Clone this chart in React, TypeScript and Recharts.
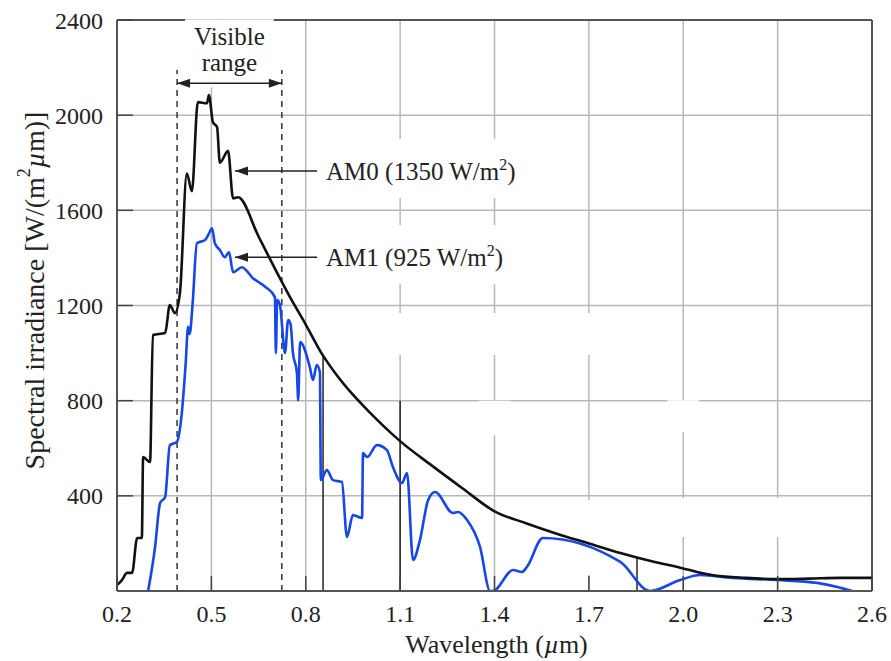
import { CartesianGrid, Line, LineChart, ReferenceArea, ReferenceLine, XAxis, YAxis } from "recharts";

const X_TICKS = [0.2, 0.5, 0.8, 1.1, 1.4, 1.7, 2.0, 2.3, 2.6];
const Y_TICKS = [400, 800, 1200, 1600, 2000, 2400];

// AM0 (outside the atmosphere)
const AM0_WL = [
  0.2, 0.215, 0.232, 0.248, 0.264, 0.279, 0.283, 0.305, 0.314, 0.353, 0.368, 0.384, 0.4, 0.422, 0.438,
  0.457, 0.486, 0.492, 0.505, 0.518, 0.527, 0.553, 0.569, 0.585, 0.65, 0.7, 0.75, 0.8, 0.85, 0.9,
  0.95, 1.0, 1.05, 1.1, 1.2, 1.3, 1.4, 1.5, 1.6, 1.7, 1.8, 1.9, 2.0, 2.05, 2.1, 2.2, 2.3, 2.4, 2.5, 2.6,
];
const AM0_IRR = [
  25, 45, 76, 76, 223, 223, 563, 542, 1076, 1084, 1202, 1168, 1252, 1755, 1680,
  2055, 2050, 2085, 1970, 1950, 1800, 1850, 1650, 1655, 1490, 1360, 1235, 1120, 1000, 905,
  825, 755, 690, 630, 528, 430, 335, 285, 240, 200, 160, 125, 95, 78, 65, 55, 50, 52, 55, 55,
];

// AM1 (sea level)
const AM1_WL = [
  0.299, 0.321, 0.337, 0.353, 0.368, 0.39, 0.406, 0.418, 0.426, 0.431, 0.44, 0.454, 0.48, 0.493, 0.502,
  0.511, 0.527, 0.543, 0.556, 0.569, 0.597, 0.632, 0.67, 0.702, 0.705, 0.709, 0.718, 0.734, 0.744, 0.752,
  0.759, 0.772, 0.776, 0.782, 0.813, 0.823, 0.835, 0.845, 0.848, 0.867, 0.887, 0.915, 0.931, 0.95, 0.979,
  0.982, 0.995, 1.026, 1.058, 1.077, 1.106, 1.122, 1.141, 1.163, 1.189, 1.211, 1.268, 1.284, 1.313, 1.354,
  1.386, 1.395, 1.459, 1.487, 1.503, 1.554, 1.8, 1.894, 1.99, 2.053, 2.158, 2.3, 2.425, 2.49, 2.537,
];
const AM1_IRR = [
  0, 185, 370, 395, 613, 626, 748, 950, 1110, 1080, 1200, 1462, 1475, 1504, 1525,
  1462, 1433, 1403, 1424, 1340, 1361, 1315, 1280, 1235, 1000, 1223, 1202, 1000, 1139, 1120,
  1004, 916, 802, 1046, 941, 887, 950, 920, 466, 508, 466, 458, 227, 319, 307,
  580, 563, 613, 592, 521, 454, 496, 130, 214, 382, 416, 328, 332, 298, 185,
  0, 0, 88, 80, 101, 223, 122, 0, 46, 67, 55, 46, 34, 17, 0,
];

const am0 = AM0_WL.map((x, i) => ({ x, y: AM0_IRR[i] }));
const am1 = AM1_WL.map((x, i) => ({ x, y: AM1_IRR[i] }));

const FONT = "'Liberation Serif', 'Times New Roman', serif";
const INK = "#222";

function XTick({ x, y, payload }: any) {
  const axisY = y - 14;
  return (
    <g>
      <line x1={x} x2={x} y1={axisY} y2={axisY - 15} stroke="#444" strokeWidth={1.5} />
      <text x={x} y={y} dy="0.71em" textAnchor="middle" fontFamily={FONT} fontSize={24} fill={INK}>
        {Number(payload.value).toFixed(1)}
      </text>
    </g>
  );
}

function YTick({ x, y, payload }: any) {
  const axisX = x + 14;
  return (
    <g>
      <line x1={axisX} x2={axisX + 16} y1={y} y2={y} stroke="#444" strokeWidth={1.5} />
      <text x={x} y={y} dy="0.355em" textAnchor="end" fontFamily={FONT} fontSize={24} fill={INK}>
        {payload.value}
      </text>
    </g>
  );
}

function XTitle({ viewBox }: any) {
  const cx = viewBox.x + viewBox.width / 2 + 2;
  return (
    <text x={cx} y={viewBox.y + 62} textAnchor="middle" fontFamily={FONT} fontSize={26} fill={INK}>
      Wavelength (<tspan fontStyle="italic">µ</tspan>m)
    </text>
  );
}

function YTitle({ viewBox }: any) {
  const cy = viewBox.y + viewBox.height / 2 - 15;
  const cx = 34;
  return (
    <text
      x={cx}
      y={cy}
      transform={`rotate(-90 ${cx} ${cy})`}
      textAnchor="middle"
      dominantBaseline="central"
      fontFamily={FONT}
      fontSize={28}
      fill={INK}
    >
      Spectral irradiance [W/(m
      <tspan dy={-10} fontSize={18}>2</tspan>
      <tspan dy={10} fontStyle="italic">µ</tspan>m)]
    </text>
  );
}

// filled arrow head with its tip at (xTip, y)
function arrowHead(xTip: number, y: number, dir: number) {
  const len = 13;
  const hw = 4.5;
  return <polygon points={`${xTip},${y} ${xTip + dir * len},${y - hw} ${xTip + dir * len},${y + hw}`} fill="#222" />;
}

function VisibleArrow(props: any) {
  const { x1, y1, x2 } = props;
  const left = Math.min(x1, x2);
  const right = Math.max(x1, x2);
  const cx = (left + right) / 2;
  return (
    <g>
      <rect x={left + 8} y={y1 - 64} width={right - left - 16} height={68} fill="#fff" />
      <line x1={left} x2={right} y1={y1} y2={y1} stroke="#222" strokeWidth={1.5} />
      {arrowHead(left, y1, 1)}
      {arrowHead(right, y1, -1)}
      <text x={cx} y={y1 - 38} textAnchor="middle" fontFamily={FONT} fontSize={25} fill={INK}>
        Visible
      </text>
      <text x={cx} y={y1 - 12} textAnchor="middle" fontFamily={FONT} fontSize={25} fill={INK}>
        range
      </text>
    </g>
  );
}

function makeLabelArrow(main: string, tail: string) {
  return function LabelArrow(props: any) {
    const { x1, y1, x2 } = props;
    return (
      <g>
        <rect x={x1 + 3} y={y1 - 32} width={215} height={59} fill="#fff" />
        <line x1={x1} x2={x2} y1={y1} y2={y1} stroke="#222" strokeWidth={1.5} />
        {arrowHead(x2, y1, 1)}
        <text x={x1 + 9} y={y1 + 9} fontFamily={FONT} fontSize={25} fill={INK}>
          {main}
          <tspan dy={-10} fontSize={16}>2</tspan>
          <tspan dy={10}>{tail}</tspan>
        </text>
      </g>
    );
  };
}

const Am0Arrow = makeLabelArrow("AM0 (1350 W/m", ")");
const Am1Arrow = makeLabelArrow("AM1 (925 W/m", ")");

export default function App() {
  return (
    <div style={{ position: "absolute", left: 0, top: 0, background: "#fff" }}>
      <LineChart width={891} height={661} data={am0} margin={{ top: 20, right: 19, bottom: 0, left: 0 }}>
        <CartesianGrid stroke="#b8b8b8" strokeWidth={1.5} />
        <XAxis
          type="number"
          dataKey="x"
          domain={[0.2, 2.6]}
          ticks={X_TICKS}
          allowDataOverflow
          height={70}
          tickSize={0}
          tickMargin={14}
          tick={XTick}
          axisLine={{ stroke: "#555", strokeWidth: 2 }}
          label={{ content: XTitle }}
        />
        <YAxis
          type="number"
          dataKey="y"
          domain={[0, 2400]}
          ticks={Y_TICKS}
          allowDataOverflow
          width={117}
          tickSize={0}
          tickMargin={14}
          tick={YTick}
          axisLine={{ stroke: "#555", strokeWidth: 2 }}
          label={{ content: YTitle }}
        />
        {/* blank patches in the grid */}
        <ReferenceArea x1={1.05} x2={1.75} y1={992} y2={1168} fill="#fff" fillOpacity={1} stroke="none" />
        <ReferenceArea x1={1.35} x2={1.45} y1={655} y2={800} fill="#fff" fillOpacity={1} stroke="none" />
        <ReferenceArea x1={1.95} x2={2.05} y1={668} y2={802} fill="#fff" fillOpacity={1} stroke="none" />
        <ReferenceArea x1={1.95} x2={2.35} y1={227} y2={391} fill="#fff" fillOpacity={1} stroke="none" />
        <ReferenceArea x1={1.65} x2={1.75} y1={67} y2={382} fill="#fff" fillOpacity={1} stroke="none" />

        <ReferenceLine y={2400} stroke="#555" strokeWidth={2} />
        <ReferenceLine x={2.6} stroke="#555" strokeWidth={2} />

        {/* visible range */}
        <ReferenceLine segment={[{ x: 0.391, y: 0 }, { x: 0.391, y: 2190 }]} stroke="#333" strokeWidth={1.5} strokeDasharray="6 5" />
        <ReferenceLine segment={[{ x: 0.724, y: 0 }, { x: 0.724, y: 2190 }]} stroke="#333" strokeWidth={1.5} strokeDasharray="6 5" />
        <ReferenceLine segment={[{ x: 0.391, y: 2134 }, { x: 0.724, y: 2134 }]} shape={VisibleArrow} />

        {/* markers down to the axis */}
        <ReferenceLine segment={[{ x: 0.855, y: 0 }, { x: 0.855, y: 990 }]} stroke="#222" strokeWidth={1.5} />
        <ReferenceLine segment={[{ x: 1.1, y: 0 }, { x: 1.1, y: 800 }]} stroke="#222" strokeWidth={1.5} />
        <ReferenceLine segment={[{ x: 1.853, y: 0 }, { x: 1.853, y: 143 }]} stroke="#222" strokeWidth={1.5} />

        <ReferenceLine segment={[{ x: 0.836, y: 1765 }, { x: 0.575, y: 1765 }]} shape={Am0Arrow} />
        <ReferenceLine segment={[{ x: 0.836, y: 1403 }, { x: 0.575, y: 1403 }]} shape={Am1Arrow} />

        <Line
          data={am1}
          dataKey="y"
          type="monotone"
          stroke="#1747e6"
          strokeWidth={2.6}
          dot={false}
          activeDot={false}
          isAnimationActive={false}
        />
        <Line
          data={am0}
          dataKey="y"
          type="monotone"
          stroke="#111"
          strokeWidth={2.6}
          dot={false}
          activeDot={false}
          isAnimationActive={false}
        />
      </LineChart>
    </div>
  );
}
